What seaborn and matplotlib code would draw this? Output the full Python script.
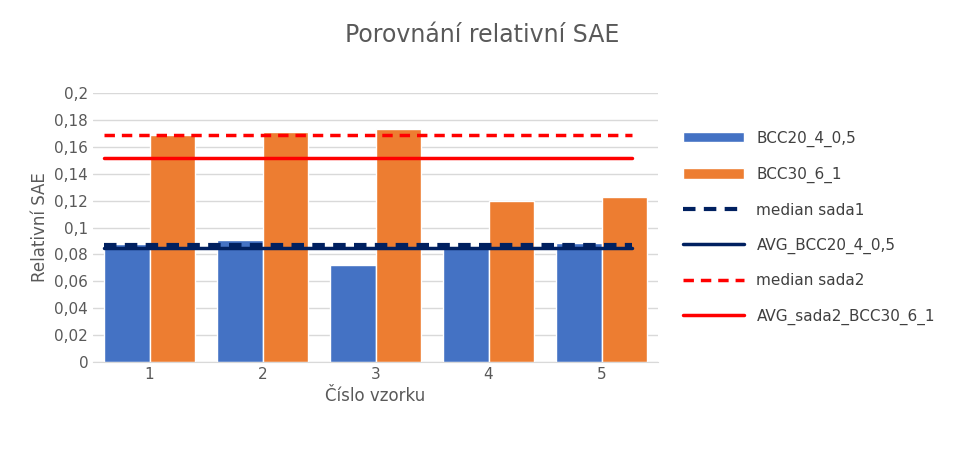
import numpy as np
import pandas as pd
import seaborn as sns
from matplotlib import pyplot as plt
from matplotlib.ticker import FuncFormatter

vzorky = ['1', '2', '3', '4', '5']
bcc20 = [0.0877, 0.0905, 0.0722, 0.0862, 0.0885]
bcc30 = [0.1685, 0.1710, 0.1735, 0.1200, 0.1230]
median1 = 0.0870
avg1 = 0.0850
median2 = 0.1690
avg2 = 0.1515

df = pd.DataFrame({'vzorek': vzorky * 2,
                   'sae': bcc20 + bcc30,
                   'sada': ['BCC20_4_0,5'] * 5 + ['BCC30_6_1'] * 5})

sns.set_style('white')
fig = plt.figure(figsize=(9.65, 4.51), dpi=100)
ax = fig.add_axes([93/965, 89/451, 565/965, 269/451])
sns.barplot(data=df, x='vzorek', y='sae', hue='sada', palette=['#4472c4', '#ed7d31'],
            width=0.8, gap=0, ax=ax, saturation=1)
x0, x1 = -0.4, 4.27
ax.plot([x0, x1], [median1] * 2, color='#002060', lw=3, ls=(0, (3, 2)), label='median sada1')
ax.plot([x0, x1], [avg1] * 2, color='#002060', lw=2.5, label='AVG_BCC20_4_0,5')
ax.plot([x0, x1], [median2] * 2, color='#ff0000', lw=2.5, ls=(0, (3, 2)), label='median sada2')
ax.plot([x0, x1], [avg2] * 2, color='#ff0000', lw=2.5, label='AVG_sada2_BCC30_6_1')

ax.set_ylim(0, 0.2)
ax.set_xlim(-0.5, 4.5)
ax.set_yticks(np.arange(0, 0.201, 0.02))
ax.yaxis.set_major_formatter(FuncFormatter(lambda v, p: ('%g' % round(v, 2)).replace('.', ',')))
ax.grid(axis='y', color='#d9d9d9', lw=1)
ax.set_axisbelow(True)
for s in ax.spines.values():
    s.set_visible(False)
ax.spines['bottom'].set_visible(True)
ax.spines['bottom'].set_color('#d9d9d9')
ax.tick_params(colors='#595959', labelsize=11, length=0)
ax.set_xlabel('Číslo vzorku', color='#595959', fontsize=12)
ax.set_ylabel('Relativní SAE', color='#595959', fontsize=12)
fig.suptitle('Porovnání relativní SAE', color='#595959', fontsize=17, x=0.5, y=0.95)
h, l = ax.get_legend_handles_labels()
ax.legend(h, l, loc='center left', bbox_to_anchor=(1.02, 0.5), frameon=False,
          fontsize=11, labelcolor='#404040', handlelength=4, labelspacing=1.3)
fig.savefig('out.png', dpi=100)
